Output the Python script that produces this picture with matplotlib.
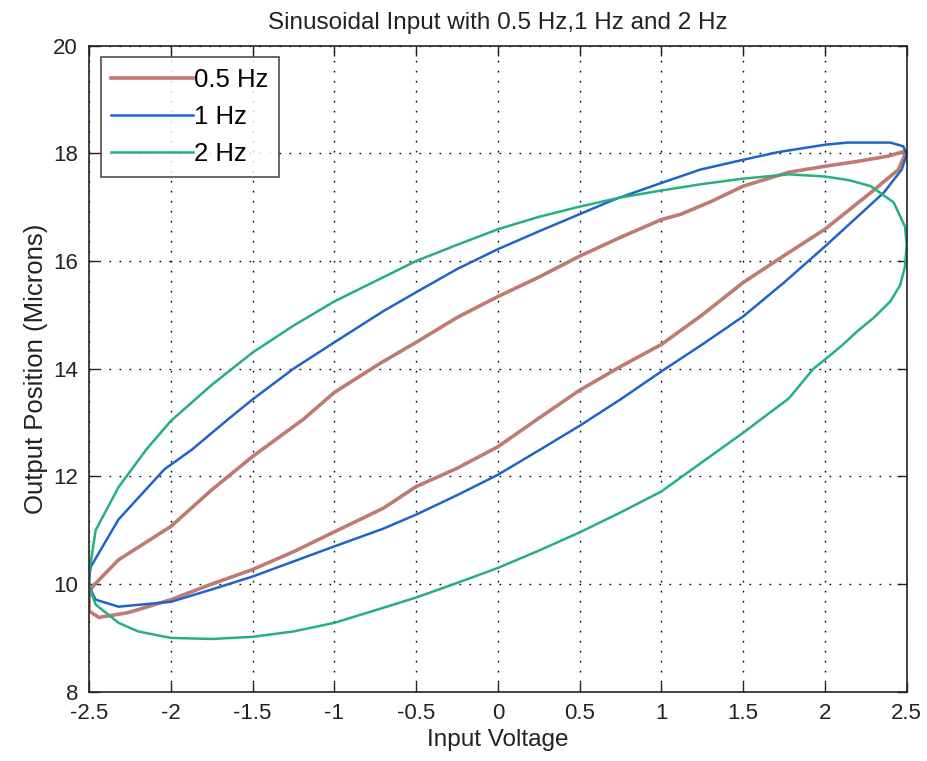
import matplotlib
matplotlib.use("Agg")
import matplotlib.pyplot as plt

# 0.5 Hz loop (upper branch left->right, then lower branch right->left)
x_05 = [-2.5, -2.48, -2.32, -2.0, -1.75, -1.5, -1.19, -1.0, -0.72, -0.5, -0.25, 0.0, 0.25, 0.5, 0.75,
        1.0, 1.12, 1.3, 1.5, 1.78, 2.0, 2.2, 2.39, 2.5,
        2.45, 2.28, 2.0, 1.75, 1.5, 1.25, 1.0, 0.75, 0.5, 0.25, 0.0, -0.25, -0.5, -0.7, -1.0, -1.25,
        -1.5, -1.75, -2.0, -2.26, -2.44, -2.5, -2.5]
y_05 = [9.8, 9.95, 10.45, 11.07, 11.75, 12.37, 13.06, 13.56, 14.1, 14.49, 14.95, 15.34, 15.7, 16.09, 16.44,
        16.77, 16.87, 17.1, 17.39, 17.65, 17.76, 17.85, 17.95, 18.05,
        17.7, 17.27, 16.59, 16.1, 15.6, 15.0, 14.45, 14.04, 13.6, 13.08, 12.55, 12.15, 11.81, 11.41, 10.97, 10.6,
        10.27, 10.0, 9.71, 9.47, 9.38, 9.5, 9.8]

# 1 Hz loop
x_1 = [-2.5, -2.49, -2.32, -2.04, -1.87, -1.65, -1.5, -1.25, -1.0, -0.7, -0.5, -0.25, 0.0, 0.25, 0.5, 0.71,
       1.0, 1.24, 1.5, 1.71, 2.0, 2.14, 2.4, 2.48, 2.5,
       2.47, 2.36, 2.18, 2.0, 1.75, 1.5, 1.25, 1.0, 0.75, 0.5, 0.26, 0.0, -0.25, -0.5, -0.7, -1.0, -1.25,
       -1.5, -1.75, -2.0, -2.32, -2.46, -2.5, -2.5]
y_1 = [10.1, 10.32, 11.2, 12.13, 12.5, 13.06, 13.43, 14.0, 14.49, 15.07, 15.42, 15.85, 16.22, 16.55, 16.87, 17.14,
       17.45, 17.7, 17.88, 18.02, 18.16, 18.2, 18.2, 18.13, 17.98,
       17.7, 17.27, 16.77, 16.27, 15.6, 14.97, 14.45, 13.95, 13.43, 12.94, 12.5, 12.03, 11.65, 11.29, 11.03, 10.7, 10.42,
       10.14, 9.9, 9.67, 9.58, 9.71, 9.95, 10.1]

# 2 Hz loop
x_2 = [-2.5, -2.46, -2.32, -2.15, -2.0, -1.75, -1.5, -1.25, -1.0, -0.7, -0.5, -0.25, 0.0, 0.25, 0.5, 0.75,
       1.0, 1.25, 1.5, 1.78, 2.0, 2.15, 2.28, 2.42, 2.49, 2.5,
       2.49, 2.46, 2.4, 2.3, 2.2, 2.1, 2.0, 1.93, 1.78, 1.5, 1.16, 1.0, 0.75, 0.5, 0.25, 0.0, -0.25, -0.5,
       -0.7, -1.0, -1.25, -1.5, -1.75, -2.0, -2.2, -2.32, -2.46, -2.5, -2.5]
y_2 = [10.2, 11.0, 11.8, 12.5, 13.03, 13.7, 14.3, 14.8, 15.25, 15.7, 16.0, 16.3, 16.59, 16.82, 17.01, 17.18,
       17.31, 17.43, 17.53, 17.61, 17.57, 17.5, 17.39, 17.09, 16.64, 16.3,
       15.9, 15.55, 15.25, 14.95, 14.7, 14.42, 14.17, 14.0, 13.45, 12.81, 12.07, 11.72, 11.33, 10.96, 10.62, 10.3, 10.02, 9.75,
       9.56, 9.28, 9.12, 9.02, 8.98, 9.0, 9.12, 9.28, 9.62, 9.95, 10.2]

labels = ["0.5 Hz", "1 Hz", "2 Hz"]
colors = ["#c07a72", "#1f64c8", "#25b07c"]

plt.rcParams['font.family'] = ['Liberation Sans', 'DejaVu Sans']
ink = '#222222'

fig = plt.figure(figsize=(9.28, 7.61), dpi=100, facecolor='white')
ax = fig.add_axes([0.096, 0.091, 0.881, 0.849])

ax.plot(x_05, y_05, color=colors[0], lw=2.6, label=labels[0])
ax.plot(x_1, y_1, color=colors[1], lw=1.8, label=labels[1])
ax.plot(x_2, y_2, color=colors[2], lw=1.8, label=labels[2])

ax.set_xlim(-2.5, 2.5)
ax.set_ylim(8, 20)
ax.set_xticks([-2.5, -2, -1.5, -1, -0.5, 0, 0.5, 1, 1.5, 2, 2.5])
ax.set_xticklabels(["-2.5", "-2", "-1.5", "-1", "-0.5", "0", "0.5", "1", "1.5", "2", "2.5"])
ax.set_yticks([8, 10, 12, 14, 16, 18, 20])
ax.grid(True, color='black', linestyle=(0, (1.2, 6)), linewidth=1.0)
ax.tick_params(direction='in', length=7, width=1, top=True, right=True,
               labelsize=16, pad=8, colors=ink)
for s in ax.spines.values():
    s.set_linewidth(1.2)
    s.set_color(ink)

ax.set_xlabel("Input Voltage", fontsize=17.5, color=ink, labelpad=4)
ax.set_ylabel("Output Position (Microns)", fontsize=18.5, color=ink, labelpad=4)
ax.set_title("Sinusoidal Input with 0.5 Hz,1 Hz and 2 Hz", fontsize=17.5, color=ink, pad=12)

leg = ax.legend(loc='upper left', fontsize=18.5, frameon=True, fancybox=False,
                edgecolor=ink, handlelength=3.2, handletextpad=0.05,
                labelspacing=0.52, borderaxespad=0.45, borderpad=0.4)
leg.get_frame().set_linewidth(1.2)

fig.savefig("out.png", dpi=100, facecolor='white')
